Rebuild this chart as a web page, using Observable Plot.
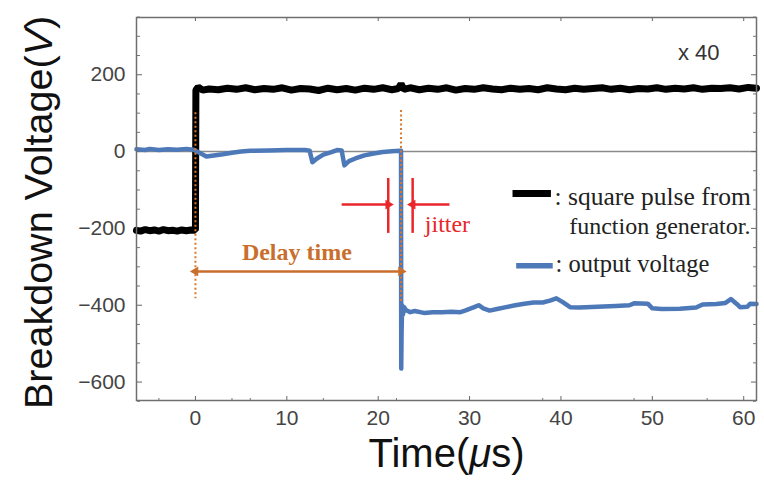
<!DOCTYPE html>
<html><head><meta charset="utf-8">
<script src="https://cdn.jsdelivr.net/npm/d3@7"></script>
<script src="https://cdn.jsdelivr.net/npm/@observablehq/plot@0.6"></script>
<style>html,body{margin:0;padding:0;background:#fff}</style>
</head><body><div id="chart"></div>
<script>
// square pulse from function generator (time µs, voltage V)
const pulseTime = [-6.45,-6,-5.5,-5,-4.5,-4,-3.5,-3,-2.5,-2,-1.5,-1,-0.5,0,0.05,0.3,0.8,1.5,2.5,3.5,4.5,5.5,6.5,7.5,8.5,9.5,10.5,11.5,12.5,13.5,14.5,15.5,16.5,17.5,18.5,19.5,20.5,21.5,22.2,22.5,22.8,23.5,24.5,25.5,26.5,27.5,28.5,29.5,30.5,31.5,32.5,33.5,34.5,35.5,36.5,37.5,38.5,39.5,40.5,41.5,42.5,43.5,44.5,45.5,46.5,47.5,48.5,49.5,50.5,51.5,52.5,53.5,54.5,55.5,56.5,57.5,58.5,59.5,60.5,61.4];
const pulseVolt = [-205,-207,-203,-206,-204,-207,-203,-206,-205,-207,-204,-206,-204,-205,160,168,160,163,161,165,162,166,161,164,162,166,160,164,163,159,165,161,164,160,165,162,166,161,164,176,162,166,161,165,162,166,160,164,162,166,163,161,165,162,164,161,166,163,161,165,162,164,166,162,165,161,164,163,166,162,165,163,166,162,165,164,166,163,167,165];

// output voltage (time µs, voltage V)
const outTime = [-6.45,-5.5,-5,-4,-3,-2,-1,-0.2,0,0.5,1.2,2,3,4,5,6,8,10,12,12.5,12.8,13.3,14,14.8,15.5,16,16.3,16.8,17.5,18.5,19.5,20.5,21.5,22.4,22.5,22.52,22.56,22.62,22.7,22.85,23,23.5,24,25,26,27,28,29,29.5,30.5,31,31.5,32.2,33,34,35,36,37,38,38.8,39.5,40.2,41,42,44,46,47.5,48,49.5,50,51,53,54.8,55.5,57,58,58.6,59.3,59.6,60.4,60.7,61.4];
const outVolt = [6,4,7,4,6,5,7,5,2,-4,-13,-10,-7,-3,0,2,3,4,4,2,-28,-18,-8,-2,4,3,-36,-25,-18,-10,-5,-1,1,2,2,-565,-470,-400,-425,-405,-412,-418,-415,-420,-418,-418,-417,-418,-414,-405,-400,-408,-414,-410,-405,-400,-396,-393,-393,-388,-382,-392,-405,-406,-404,-402,-400,-395,-396,-408,-410,-409,-406,-398,-397,-394,-384,-398,-405,-404,-396,-397];

// axis ticks
const xTicks = [0,10,20,30,40,50,60];
const xMinorTicks = [-4,4,6,14,22,38,48,56];
const yTicks = [-600,-400,-200,0,200];
const yMinorTicks = [-650,-550,-500,-450,-350,-300,-250,-150,-100,-50,50,100,150,250,300,350];

// annotations (data coordinates)
const delayStart = 0, breakdownTime = 22.5;
const delayArrowV = -312;
const delayLabel = "Delay time";
const delayLabelPos = {t: 11.1, v: -262};
const dotted = [{t: 0, v1: 101, v2: -383}, {t: 22.5, v1: 107, v2: -390}];
const jitterLines = [{t: 21.1, v1: -70, v2: -213}, {t: 23.77, v1: -70, v2: -213}];
const jitterArrows = [{t1: 16.0, t2: 21.1, v: -138, dir: 90}, {t1: 27.8, t2: 23.77, v: -138, dir: -90}];
const jitterLabel = {text: "jitter", t: 25.1, v: -190};
const legendSwatches = [{t1: 34.7, t2: 38.9, v: -109, color: "#000", w: 7}, {t1: 35.1, t2: 39.1, v: -297, color: "#4e79b9", w: 5.5}];
const legendTexts = [
  {text: ": square pulse from", t: 39.3, v: -119, size: 25.5},
  {text: "function generator.", t: 40.9, v: -195, size: 24},
  {text: ": output voltage", t: 39.4, v: -292, size: 24.5}
];
const scaleNote = {text: "x 40", t: 52.8, v: 258};

const pulse = pulseTime.map((t, i) => ({t, v: pulseVolt[i]}));
const out = outTime.map((t, i) => ({t, v: outVolt[i]}));
const orange = "#c96f2d", red = "#e8262b";

const chart = Plot.plot({
  width: 764, height: 491,
  marginLeft: 136, marginRight: 8, marginTop: 17, marginBottom: 91,
  style: {fontFamily: "Liberation Sans", background: "#fff", overflow: "visible"},
  x: {domain: [-6.45, 61.4], label: null},
  y: {domain: [-648, 349], label: null},
  marks: [
    Plot.ruleY([0], {stroke: "#8a8a8a", strokeWidth: 1.5}),
    // axes labels
    Plot.axisX(xTicks, {tickSize: 0, tickPadding: 10, fontSize: 21, color: "#444", label: null}),
    Plot.axisY(yTicks, {tickSize: 0, tickPadding: 11, fontSize: 21, color: "#444", label: null}),
    // inward ticks
    Plot.axisY(yTicks, {anchor: "right", tickSize: 5, fill: "none", stroke: "#666", dx: -620, label: null}),
    Plot.axisY(yMinorTicks, {anchor: "right", tickSize: 3, fill: "none", stroke: "#777", dx: -620, label: null}),
    Plot.axisY(yTicks, {anchor: "left", tickSize: 5, fill: "none", stroke: "#666", dx: 620, label: null}),
    Plot.axisY(yMinorTicks, {anchor: "left", tickSize: 3, fill: "none", stroke: "#777", dx: 620, label: null}),
    Plot.axisX(xTicks, {anchor: "top", tickSize: 5, fill: "none", stroke: "#666", dy: 383, label: null}),
    Plot.axisX(xMinorTicks, {anchor: "top", tickSize: 3, fill: "none", stroke: "#777", dy: 383, label: null}),
    Plot.axisX(xTicks, {anchor: "bottom", tickSize: 4, fill: "none", stroke: "#666", dy: -383, label: null}),
    // signals
    Plot.line(pulse, {x: "t", y: "v", stroke: "#000", strokeWidth: 7, strokeLinejoin: "miter"}),
    Plot.line(out, {x: "t", y: "v", stroke: "#4e79b9", strokeWidth: 4.5}),
    // dotted markers
    Plot.ruleX(dotted, {x: "t", y1: "v1", y2: "v2", stroke: "#d9782f", strokeWidth: 2, strokeDasharray: "2,2.5"}),
    // delay arrow
    Plot.link([{t1: delayStart, t2: breakdownTime, v: delayArrowV}], {x1: "t1", x2: "t2", y1: "v", y2: "v", stroke: orange, strokeWidth: 2.5}),
    Plot.dot([{t: delayStart, r: -90}, {t: breakdownTime, r: 90}], {x: "t", y: () => delayArrowV, rotate: "r", symbol: "triangle", r: 3.6, fill: orange, stroke: null}),
    Plot.text([delayLabel], {x: () => delayLabelPos.t, y: () => delayLabelPos.v, fontFamily: "Liberation Serif", fontWeight: "bold", fontSize: 24, fill: orange}),
    // jitter
    Plot.ruleX(jitterLines, {x: "t", y1: "v1", y2: "v2", stroke: red, strokeWidth: 2.5}),
    Plot.link(jitterArrows, {x1: "t1", x2: "t2", y1: "v", y2: "v", stroke: red, strokeWidth: 2.5}),
    Plot.dot(jitterArrows, {x: "t2", y: "v", rotate: "dir", symbol: "triangle", r: 3.6, fill: red, stroke: null}),
    Plot.text([jitterLabel], {x: "t", y: "v", text: "text", textAnchor: "start", fontFamily: "Liberation Serif", fontSize: 24, fill: red}),
    // legend
    Plot.link(legendSwatches, {x1: "t1", x2: "t2", y1: "v", y2: "v", stroke: "color", strokeWidth: "w"}),
    ...legendTexts.map(d => Plot.text([d], {x: "t", y: "v", text: "text", textAnchor: "start", fontFamily: "Liberation Serif", fontSize: d.size, fill: "#222"})),
    Plot.text([scaleNote], {x: "t", y: "v", text: "text", textAnchor: "start", fontSize: 22, fill: "#333"}),
    // axis titles
    Plot.text(["Time(μs)"], {frameAnchor: "bottom", dy: 66, fontSize: 40, fill: "#111"}),
    Plot.text(["Breakdown Voltage(V)"], {frameAnchor: "left", rotate: -90, textAnchor: "start", dx: -97, dy: 200, fontSize: 39.5, fill: "#111"}),
    Plot.frame({stroke: "#6f6f6f", strokeWidth: 1.5})
  ]
});
document.getElementById("chart").appendChild(chart);

// italic µ and V in axis titles (kept as real text)
chart.querySelectorAll("text").forEach(t => {
  const s = t.textContent;
  const rebuild = (parts) => {
    t.textContent = "";
    parts.forEach(([txt, ital]) => {
      const sp = document.createElementNS("http://www.w3.org/2000/svg", "tspan");
      sp.textContent = txt;
      if (ital) sp.setAttribute("font-style", "italic");
      t.appendChild(sp);
    });
  };
  if (s === "Time(μs)") rebuild([["Time(", false], ["μ", true], ["s)", false]]);
  if (s === "Breakdown Voltage(V)") rebuild([["Breakdown Voltage(", false], ["V", true], [")", false]]);
});
</script>
</body></html>
